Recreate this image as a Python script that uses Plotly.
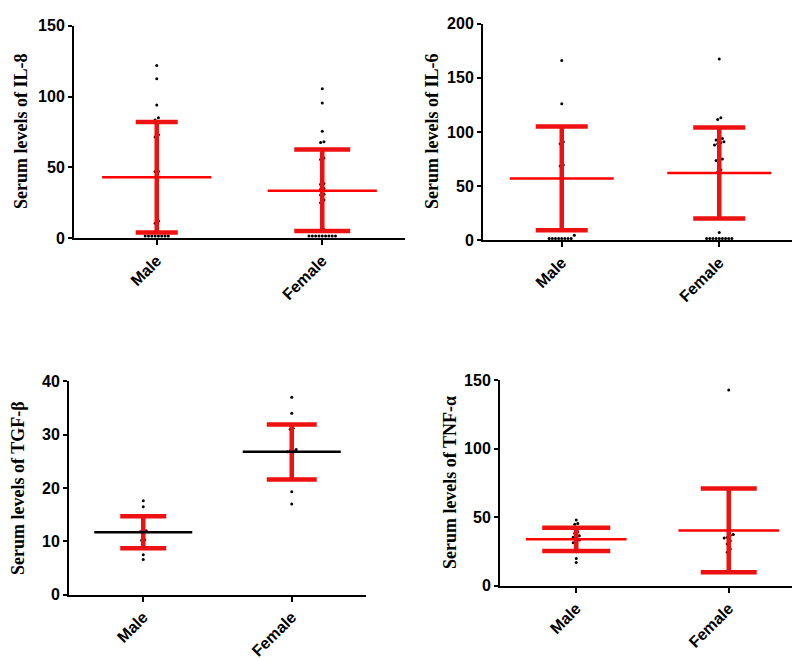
import plotly.graph_objects as go

groups = ["Male", "Female"]

# IL-8
il8_male = [122, 112.5, 94, 85, 83.5, 73, 71.5, 47, 47, 12, 10.5,
            1.5, 1.5, 1.5, 1.5, 1.5, 1.5, 1.5, 1.5]
il8_female = [105.5, 95.5, 75.5, 68, 67.5, 56.5, 55.5, 38.5, 38, 35, 34.5, 31, 30.5, 27, 25, 6, 5.5,
              1.5, 1.5, 1.5, 1.5, 1.5, 1.5, 1.5, 1.5, 1.5]
il8_mean = [43, 33.5]
il8_low = [4, 5]
il8_high = [82, 62.5]

# IL-6
il6_male = [166, 126, 102.5, 94.5, 91, 89, 69.5, 68.5, 4.5,
            1.5, 1.5, 1.5, 1.5, 1.5, 1.5, 1.5, 1.5]
il6_female = [167.5, 113, 111.5, 94, 93.5, 92.5, 91, 90, 89, 88, 75, 74, 73.5, 65, 63, 50.5, 7,
              1.5, 1.5, 1.5, 1.5, 1.5, 1.5, 1.5, 1.5, 1.5]
il6_mean = [57, 62]
il6_low = [9, 20]
il6_high = [105, 104]

# TGF-beta
tgf_male = [17.6, 16.5, 14.8, 12, 12, 11.8, 11, 10.3, 10.2, 7.5, 6.6]
tgf_female = [37, 34, 31.2, 31, 27.2, 27, 27, 26.8, 22, 19.3, 17]
tgf_mean = [11.7, 26.8]
tgf_low = [8.7, 21.6]
tgf_high = [14.7, 31.9]

# TNF-alpha
tnf_male = [48, 45.5, 45, 39.5, 38.5, 36.5, 36, 35.5, 33.5, 33, 31.5, 25, 20, 17]
tnf_female = [143, 37.5, 37, 35.5, 35, 33, 30.5, 27, 24.5]
tnf_mean = [34, 40.5]
tnf_low = [25.5, 10]
tnf_high = [42.5, 71]

panels = [
    dict(male=il8_male, female=il8_female, mean=il8_mean, low=il8_low, high=il8_high,
         title="Serum levels of IL-8", yr=150, dt=50, mc="red", caps=[21, 28],
         xd=[66, 397], yd=[228, 10], tx=13),
    dict(male=il6_male, female=il6_female, mean=il6_mean, low=il6_low, high=il6_high,
         title="Serum levels of IL-6", yr=200, dt=50, mc="red", caps=[26, 26],
         xd=[475, 790], yd=[230, 8], tx=424),
    dict(male=tgf_male, female=tgf_female, mean=tgf_mean, low=tgf_low, high=tgf_high,
         title="Serum levels of TGF-β", yr=40, dt=10, mc="black", caps=[23, 25],
         xd=[61, 358], yd=[594, 375], tx=10),
    dict(male=tnf_male, female=tnf_female, mean=tnf_mean, low=tnf_low, high=tnf_high,
         title="Serum levels of TNF-α", yr=150, dt=50, mc="red", caps=[34, 28],
         xd=[492, 797], yd=[585, 374], tx=442),
]

W, H = 800, 658
RED = "#ee1111"


def spread(vals, center, tol, step=0.02):
    # simple column scatter: nearby values get pushed sideways
    order = sorted(range(len(vals)), key=lambda i: vals[i])
    xs = [center] * len(vals)
    clusters = []
    for i in order:
        if clusters and vals[i] - vals[clusters[-1][0]] <= tol:
            clusters[-1].append(i)
        else:
            clusters.append([i])
    for c in clusters:
        n = len(c)
        for k, i in enumerate(c):
            xs[i] = center + (k - (n - 1) / 2) * step
    return xs


fig = go.Figure()
annotations = []

for p, pan in enumerate(panels):
    n = "" if p == 0 else str(p + 1)
    xa, ya = "x" + n, "y" + n
    tol = pan["yr"] / 60

    for g, vals in enumerate([pan["male"], pan["female"]]):
        fig.add_trace(go.Scatter(
            x=spread(vals, g, tol), y=vals, mode="markers", xaxis=xa, yaxis=ya,
            marker=dict(color="black", size=3), cliponaxis=False, showlegend=False))

    for g in range(2):
        m = pan["mean"][g]
        fig.add_trace(go.Scatter(
            x=[g], y=[m], mode="markers", xaxis=xa, yaxis=ya,
            marker=dict(size=1, color="rgba(0,0,0,0)"), showlegend=False,
            error_y=dict(type="data", symmetric=False,
                         array=[pan["high"][g] - m], arrayminus=[m - pan["low"][g]],
                         color=RED, thickness=4.5, width=pan["caps"][g])))
        fig.add_trace(go.Scatter(
            x=[g - 0.33, g + 0.33], y=[m, m], mode="lines", xaxis=xa, yaxis=ya,
            line=dict(color=pan["mc"], width=2.5), showlegend=False))

    axis_x = dict(domain=[pan["xd"][0] / W, pan["xd"][1] / W], range=[-0.5, 1.5],
                  tickvals=[0, 1], ticktext=groups, tickangle=-45, anchor=ya,
                  showline=True, linecolor="black", linewidth=2, showgrid=False, zeroline=False,
                  ticks="outside", ticklen=5, tickwidth=1.5, tickcolor="black",
                  tickfont=dict(family="Liberation Sans, Arial", size=16, color="black", weight="bold"))
    axis_y = dict(domain=[(H - pan["yd"][0]) / H, (H - pan["yd"][1]) / H], range=[0, pan["yr"]],
                  dtick=pan["dt"], anchor=xa,
                  showline=True, linecolor="black", linewidth=2, showgrid=False, zeroline=False,
                  ticks="outside", ticklen=4, tickwidth=1.5, tickcolor="black",
                  tickfont=dict(family="Liberation Sans, Arial", size=16, color="black", weight="bold"))
    fig.update_layout({"xaxis" + n: axis_x, "yaxis" + n: axis_y})

    annotations.append(dict(
        text=pan["title"], textangle=-90, xref="paper", yref="paper",
        x=pan["tx"] / W, y=(H - (pan["yd"][0] + pan["yd"][1]) / 2) / H,
        xanchor="center", yanchor="middle", showarrow=False,
        font=dict(family="Liberation Serif, Times New Roman", size=18, color="black", weight="bold")))

fig.update_layout(
    width=W, height=H,
    margin=dict(l=0, r=0, t=0, b=0),
    plot_bgcolor="white", paper_bgcolor="white",
    annotations=annotations,
)

fig.write_html("out.html")
